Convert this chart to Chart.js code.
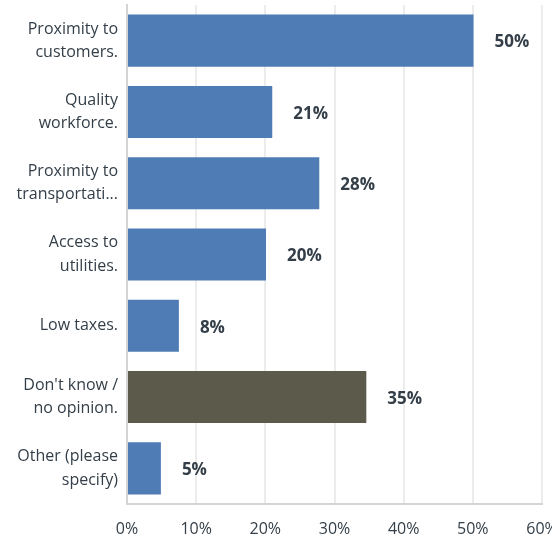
<!DOCTYPE html>
<html>
<head>
<meta charset="utf-8">
<script src="https://cdn.jsdelivr.net/npm/chart.js@4/dist/chart.umd.min.js"></script>
<style>
  html, body { margin: 0; padding: 0; background: #fff; }
  #wrap { width: 552px; height: 538px; }
</style>
</head>
<body>
<div id="wrap"><canvas id="chart" width="552" height="538"></canvas></div>
<script>
const categories = [
  ["Proximity to", "customers."],
  ["Quality", "workforce."],
  ["Proximity to", "transportati..."],
  ["Access to", "utilities."],
  ["Low taxes."],
  ["Don't know /", "no opinion."],
  ["Other (please", "specify)"],
];
const values = [50.1, 21.0, 27.8, 20.1, 7.5, 34.6, 4.9];
const valueLabels = ["50%", "21%", "28%", "20%", "8%", "35%", "5%"];
const barColors = ["#4f7cb5", "#4f7cb5", "#4f7cb5", "#4f7cb5", "#4f7cb5", "#5b5a4b", "#4f7cb5"];

const textColor = "#333e48";
const fontFamily = "'Open Sans', Roboto, sans-serif";

// labels next to the bars
const waardeLabels = {
  id: "waardeLabels",
  afterDatasetsDraw(chart) {
    const ctx = chart.ctx;
    const meta = chart.getDatasetMeta(0);
    ctx.save();
    ctx.font = "bold 17px " + fontFamily;
    ctx.fillStyle = textColor;
    ctx.textAlign = "left";
    ctx.textBaseline = "middle";
    meta.data.forEach((bar, i) => {
      ctx.fillText(valueLabels[i], bar.x + 21, bar.y + 2);
    });
    ctx.restore();
  },
};

new Chart(document.getElementById("chart").getContext("2d"), {
  type: "bar",
  data: {
    labels: categories,
    datasets: [
      {
        data: values,
        backgroundColor: barColors,
        borderWidth: 0,
        barPercentage: 0.73,
        categoryPercentage: 1,
      },
    ],
  },
  options: {
    indexAxis: "y",
    responsive: false,
    animation: false,
    layout: { padding: { top: 5, right: 0, left: 0, bottom: 0 } },
    plugins: {
      legend: { display: false },
      tooltip: { enabled: false },
    },
    scales: {
      x: {
        min: 0,
        max: 60,
        ticks: {
          stepSize: 10,
          color: textColor,
          font: { size: 16, family: fontFamily },
          padding: 16,
          callback: (v) => v + "%",
        },
        grid: { color: "#ececec", lineWidth: 2, drawTicks: false },
        border: { color: "#d4d4d4", width: 2 },
        afterFit: (scale) => {
          scale.height = 34;
          scale.paddingRight = 10;
          scale.paddingLeft = 0;
        },
      },
      y: {
        ticks: {
          color: textColor,
          font: { size: 16, family: fontFamily, lineHeight: 1.45 },
          padding: 9,
        },
        grid: { display: false, drawTicks: false },
        border: { color: "#d4d4d4", width: 2 },
        afterFit: (scale) => {
          scale.width = 127;
          scale.paddingTop = 0;
          scale.paddingBottom = 0;
        },
      },
    },
  },
  plugins: [waardeLabels],
});
</script>
</body>
</html>
